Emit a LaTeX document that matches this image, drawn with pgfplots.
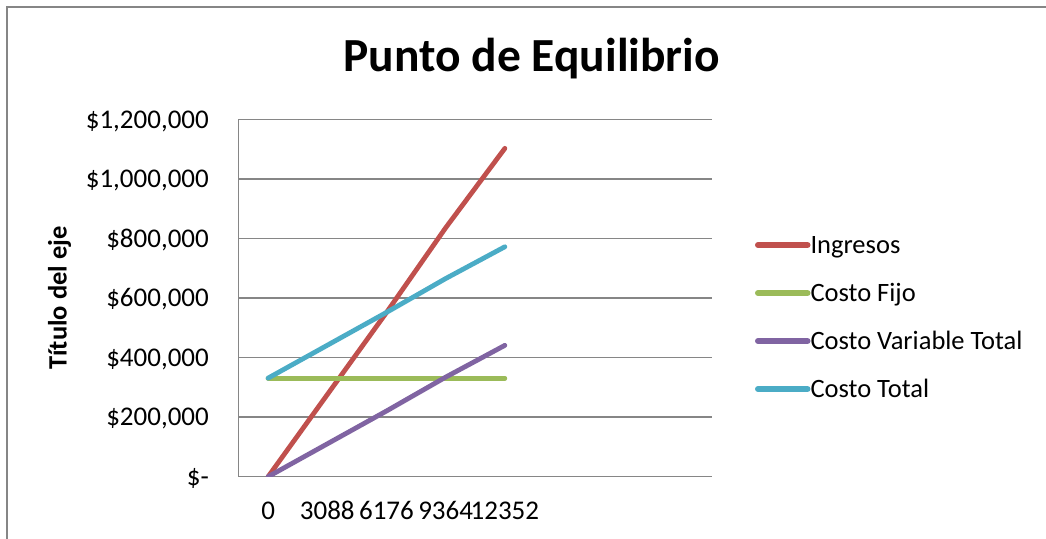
\documentclass[border=0pt]{standalone}
\usepackage{fontspec}
\setmainfont{Carlito}
\usepackage{pgfplots}
\pgfplotsset{compat=1.18}

\definecolor{gridgray}{HTML}{868686}
\definecolor{ingresos}{HTML}{C0504D}
\definecolor{costofijo}{HTML}{9BBB59}
\definecolor{costovar}{HTML}{8064A2}
\definecolor{costotot}{HTML}{4BACC6}

\begin{document}
\begin{tikzpicture}
\useasboundingbox (0pt,0pt) rectangle (1046pt,-538pt);
% chart frame (continues past the right and bottom edges)
\draw[gridgray, line width=1.5pt] (7pt,-560pt) -- (7pt,-7pt) -- (1070pt,-7pt);
\begin{axis}[
  at={(238.5pt,-476.7pt)}, anchor=south west,
  scale only axis, width=473.5pt, height=357.4pt,
  xmin=-0.5, xmax=7.5, ymin=0, ymax=1200000,
  axis x line*=bottom, axis y line*=left,
  axis line style={gridgray, line width=1.5pt, -},
  ymajorgrids, grid style={gridgray, line width=1.5pt},
  major tick length=0pt,
  xtick={0,1,2,3,4},
  xticklabels={0,3088,6176,9364,12352},
  ytick={0,200000,400000,600000,800000,1000000,1200000},
  yticklabels={{\$-\hspace{11pt}},{\$200,000},{\$400,000},{\$600,000},{\$800,000},{\$1,000,000},{\$1,200,000}},
  scaled y ticks=false,
  tick label style={font=\fontsize{27}{32}\selectfont, inner sep=0pt},
  xticklabel style={anchor=base, yshift=-42.8pt},
  yticklabel style={anchor=base east, xshift=-29.5pt, yshift=-8.8pt},
  ylabel={Título del eje},
  every axis y label/.style={at={(axis description cs:-0.3628,0.5)}, anchor=base, rotate=90,
    font=\fontsize{26.5}{32}\selectfont\bfseries, inner sep=0pt},
  title={Punto de Equilibrio},
  every axis title/.style={at={(axis description cs:0.6192,1.135)}, anchor=base,
    font=\fontsize{47.5}{56}\selectfont\bfseries, inner sep=0pt},
  legend style={at={(axis description cs:1.0908,0.679)}, anchor=north west,
    draw=none, fill=none, inner sep=0pt, outer sep=0pt,
    font=\fontsize{26.5}{32}\selectfont, row sep=22pt,
    nodes={inner sep=0pt, text height=19pt, text depth=7pt},
    /tikz/every even column/.append style={column sep=4pt}},
  legend cell align=left,
  legend image code/.code={\draw[#1, line width=6pt, line cap=round] (0pt,2pt) -- (49.5pt,2pt);},
  every axis plot/.append style={line width=4.8pt, line cap=round, line join=round, mark=none},
]
\addplot[ingresos] coordinates {(0,0) (1,275600) (2,551200) (3,835700) (4,1102400)};
\addlegendentry{Ingresos}
\addplot[costofijo] coordinates {(0,331000) (1,331000) (2,331000) (3,331000) (4,331000)};
\addlegendentry{Costo Fijo}
\addplot[costovar] coordinates {(0,0) (1,110300) (2,220600) (3,334300) (4,441000)};
\addlegendentry{Costo Variable Total}
\addplot[costotot] coordinates {(0,331000) (1,441300) (2,551600) (3,665300) (4,772000)};
\addlegendentry{Costo Total}
\end{axis}
\end{tikzpicture}
\end{document}
